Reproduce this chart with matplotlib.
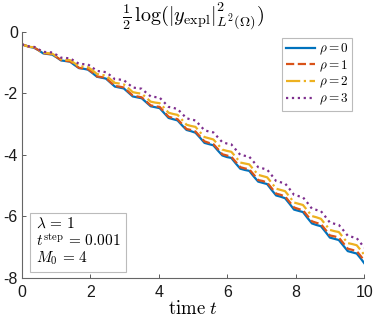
"""
plot.py
Decay of the explicit solution's L2 norm, one curve per rho.
"""
import matplotlib
matplotlib.use("Agg")
import matplotlib.pyplot as plt

# ── data ─────────────────────────────────────────────────────────────────────
time = [0.0, 0.226, 0.357, 0.488, 0.619, 0.750, 0.881, 1.012, 1.143, 1.274,
        1.405, 1.535, 1.666, 1.797, 1.928, 2.059, 2.190, 2.321, 2.452, 2.583,
        2.714, 2.844, 2.975, 3.106, 3.237, 3.368, 3.499, 3.630, 3.761, 3.892,
        4.023, 4.153, 4.284, 4.415, 4.546, 4.677, 4.808, 4.939, 5.070, 5.201,
        5.332, 5.462, 5.593, 5.724, 5.855, 5.986, 6.117, 6.248, 6.379, 6.510,
        6.641, 6.771, 6.902, 7.033, 7.164, 7.295, 7.426, 7.557, 7.688, 7.819,
        7.950, 8.080, 8.211, 8.342, 8.473, 8.604, 8.735, 8.866, 8.997, 9.128,
        9.259, 9.389, 9.520, 9.651, 9.782, 9.913, 10.0]

rho0 = [-0.41, -0.49, -0.52, -0.60, -0.70, -0.72, -0.74, -0.83, -0.93, -0.95,
        -0.97, -1.08, -1.18, -1.20, -1.23, -1.34, -1.46, -1.49, -1.52, -1.65,
        -1.78, -1.81, -1.84, -1.97, -2.10, -2.13, -2.16, -2.29, -2.42, -2.45,
        -2.48, -2.64, -2.80, -2.84, -2.88, -3.04, -3.19, -3.23, -3.28, -3.44,
        -3.61, -3.65, -3.69, -3.86, -4.02, -4.07, -4.10, -4.28, -4.45, -4.49,
        -4.52, -4.70, -4.87, -4.91, -4.95, -5.14, -5.32, -5.36, -5.41, -5.59,
        -5.78, -5.82, -5.86, -6.05, -6.23, -6.28, -6.32, -6.50, -6.69, -6.73,
        -6.77, -6.95, -7.13, -7.17, -7.21, -7.39, -7.52]

rho1 = [-0.41, -0.49, -0.51, -0.60, -0.69, -0.71, -0.73, -0.82, -0.92, -0.94,
        -0.96, -1.06, -1.17, -1.19, -1.21, -1.32, -1.45, -1.47, -1.50, -1.63,
        -1.76, -1.78, -1.81, -1.94, -2.07, -2.10, -2.13, -2.26, -2.39, -2.42,
        -2.44, -2.60, -2.76, -2.80, -2.84, -3.00, -3.16, -3.19, -3.24, -3.40,
        -3.56, -3.61, -3.65, -3.81, -3.98, -4.02, -4.06, -4.23, -4.40, -4.44,
        -4.47, -4.64, -4.82, -4.85, -4.90, -5.08, -5.26, -5.30, -5.35, -5.53,
        -5.71, -5.76, -5.80, -5.98, -6.16, -6.21, -6.25, -6.43, -6.62, -6.65,
        -6.69, -6.87, -7.05, -7.09, -7.13, -7.31, -7.44]

rho2 = [-0.41, -0.49, -0.50, -0.59, -0.68, -0.69, -0.71, -0.80, -0.89, -0.91,
        -0.92, -1.02, -1.12, -1.13, -1.15, -1.25, -1.37, -1.40, -1.42, -1.54,
        -1.66, -1.68, -1.71, -1.83, -1.96, -1.99, -2.01, -2.14, -2.27, -2.30,
        -2.32, -2.47, -2.63, -2.67, -2.70, -2.86, -3.02, -3.06, -3.09, -3.26,
        -3.42, -3.46, -3.50, -3.66, -3.83, -3.87, -3.90, -4.07, -4.25, -4.28,
        -4.31, -4.48, -4.65, -4.69, -4.73, -4.91, -5.10, -5.14, -5.18, -5.36,
        -5.55, -5.59, -5.63, -5.81, -5.99, -6.03, -6.08, -6.26, -6.44, -6.48,
        -6.51, -6.69, -6.87, -6.90, -6.94, -7.12, -7.25]

rho3 = [-0.41, -0.48, -0.49, -0.57, -0.65, -0.66, -0.67, -0.75, -0.84, -0.85,
        -0.86, -0.95, -1.04, -1.05, -1.06, -1.16, -1.27, -1.29, -1.31, -1.42,
        -1.54, -1.55, -1.57, -1.69, -1.81, -1.83, -1.85, -1.98, -2.10, -2.12,
        -2.14, -2.29, -2.44, -2.47, -2.51, -2.66, -2.81, -2.85, -2.88, -3.04,
        -3.20, -3.24, -3.27, -3.43, -3.59, -3.63, -3.66, -3.83, -4.00, -4.03,
        -4.06, -4.23, -4.40, -4.44, -4.48, -4.66, -4.85, -4.89, -4.93, -5.11,
        -5.30, -5.34, -5.38, -5.56, -5.75, -5.79, -5.83, -6.01, -6.20, -6.24,
        -6.28, -6.45, -6.63, -6.67, -6.71, -6.89, -7.02]

series_labels = [r"$\rho = 0$", r"$\rho = 1$", r"$\rho = 2$", r"$\rho = 3$"]
x_ticks = [0, 2, 4, 6, 8, 10]
y_ticks = [-8, -6, -4, -2, 0]

# MATLAB default colour order
COLORS = ["#0072BD", "#D95319", "#EDB120", "#7E2F8E"]
STYLES = ["-", "--", "-.", ":"]


def main() -> None:
    plt.rcParams["font.family"] = ["Liberation Sans", "DejaVu Sans"]
    plt.rcParams["mathtext.fontset"] = "cm"
    plt.rcParams["axes.unicode_minus"] = False

    fig = plt.figure(figsize=(3.74, 3.25), dpi=100)
    ax = fig.add_axes([0.0588, 0.145, 0.915, 0.757])

    for ys, lab, col, ls in zip([rho0, rho1, rho2, rho3], series_labels, COLORS, STYLES):
        ax.plot(time, ys, color=col, linestyle=ls, linewidth=1.6, label=lab)

    ax.set_xlim(0, 10)
    ax.set_ylim(-8, 0)
    ax.set_xticks(x_ticks)
    ax.set_yticks(y_ticks)
    ax.tick_params(direction="in", length=3, width=0.6, color="#404040",
                   labelsize=11.5, labelcolor="#1a1a1a", pad=3)
    ax.tick_params(axis="x", pad=5)

    for side in ("top", "right"):
        ax.spines[side].set_visible(False)
    for side in ("left", "bottom"):
        ax.spines[side].set_color("#666666")
        ax.spines[side].set_linewidth(0.8)

    ax.set_title(r"$\frac{1}{2}\,\log(|y_{\mathrm{expl}}|^2_{L^2(\Omega)})$",
                 fontsize=14.5, pad=4)
    ax.set_xlabel(r"$\mathrm{time}\ t$", fontsize=13.5, labelpad=0)

    leg = ax.legend(loc="upper right", bbox_to_anchor=(0.965, 0.976),
                    borderaxespad=0, fontsize=9.5, handlelength=2.2,
                    handletextpad=0.25, labelspacing=0.1, borderpad=0.3,
                    fancybox=False, framealpha=1)
    leg.get_frame().set_edgecolor("#bbbbbb")
    leg.get_frame().set_linewidth(0.8)

    info = (r"$\lambda \,=\, 1$" "\n" r"$t^{\mathrm{step}} \,=\, 0.001$" "\n"
            r"$M_0 \,=\, 4$")
    ax.text(0.04, 0.045, info, transform=ax.transAxes, fontsize=11,
            va="bottom", ha="left", linespacing=1.05,
            bbox=dict(boxstyle="square,pad=0.35", facecolor="white",
                      edgecolor="#bbbbbb", linewidth=0.8))

    fig.savefig("out.png", dpi=100)
    plt.close(fig)


if __name__ == "__main__":
    main()
